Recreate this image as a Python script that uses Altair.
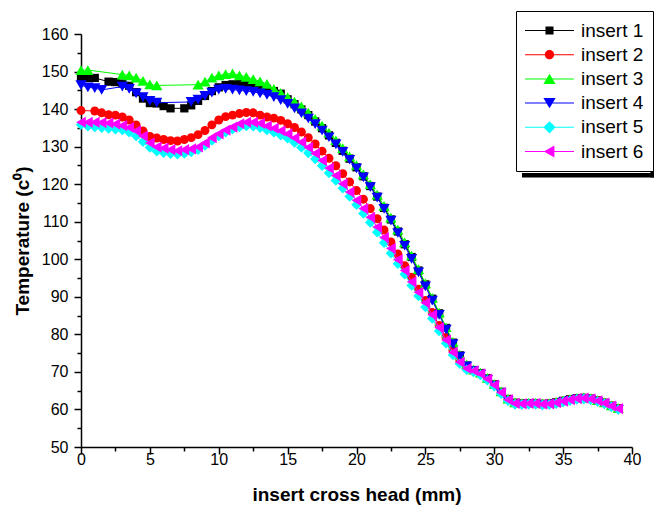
import altair as alt
import pandas as pd

# ---------------- data ----------------
X_MM = [0, 0.5, 1, 1.5, 2, 2.5, 3, 3.5, 4, 4.5,
        5, 5.5, 6, 6.5, 7, 7.5, 8, 8.5, 9, 9.5,
        10, 10.5, 11, 11.5, 12, 12.5, 13, 13.5, 14, 14.5,
        15, 15.5, 16, 16.5, 17, 17.5, 18, 18.5, 19, 19.5,
        20, 20.5, 21, 21.5, 22, 22.5, 23, 23.5, 24, 24.5,
        25, 25.5, 26, 26.5, 27, 27.5, 28, 28.5, 29, 29.5,
        30, 30.5, 31, 31.5, 32, 32.5, 33, 33.5, 34, 34.5,
        35, 35.5, 36, 36.5, 37, 37.5, 38, 38.5, 39]

INSERT_1 = [148.3, 148.3, 148.3, None, 147.3, 147.2, 146.8, 146.2, 144.5, 142.8,
            141.6, 141.5, 140.8, 140.2, None, 140.2, 141.0, 142.2, 143.5, 144.8,
            145.8, 146.4, 146.6, 146.9, 146.8, 146.4, 145.9, 145.4, 144.8, 144.1,
            142.6, 141.3, 139.9, 138.4, 136.7, 134.9, 133.0, 131.0, 128.9, 126.8,
            124.5, 122.1, 119.5, 116.7, 113.7, 110.6, 107.4, 104.0, 100.6, 97.0,
            93.3, 89.5, 85.6, 81.7, 77.8, 74.4, 71.7, 70.5, 69.7, 68.3,
            66.7, 64.7, 62.8, 61.8, 61.6, 61.7, 61.7, 61.5, 61.6, 61.9,
            62.3, 62.7, 63.0, 63.1, 62.9, 62.4, 61.8, 61.0, 60.3]

INSERT_2 = [139.6, None, 139.5, 139.0, 138.5, 138.4, 137.9, 137.1, 135.8, 134.2,
            132.7, 132.3, 131.9, 131.6, 131.5, 131.9, 132.4, 133.2, 134.3, 135.8,
            137.1, 138.0, 138.4, 138.8, 139.1, 139.0, 138.4, 137.9, 137.6, 137.0,
            136.1, 135.1, 133.9, 132.4, 130.7, 128.8, 126.9, 124.9, 122.8, 120.6,
            118.3, 116.0, 113.5, 110.8, 107.8, 104.6, 101.4, 98.3, 95.2, 92.0,
            89.0, 85.8, 82.4, 79.2, 75.8, 73.0, 71.1, 70.3, 69.5, 68.1,
            66.5, 64.5, 62.6, 61.6, 61.5, 61.6, 61.6, 61.4, 61.5, 61.8,
            62.2, 62.6, 62.9, 63.0, 62.8, 62.3, 61.7, 60.9, 60.2]

INSERT_3 = [150.4, 150.4, None, None, None, None, 149.2, 149.0, 148.4, 147.5,
            146.6, 146.3, None, None, None, None, None, 146.5, 147.3, 148.4,
            149.0, 149.3, 149.5, 149.0, 148.6, 148.0, 147.4, 146.7, 145.4, 144.3,
            143.2, 142.0, 140.7, 139.1, 137.4, 135.6, 133.7, 131.7, 129.6, 127.4,
            125.1, 122.6, 120.0, 117.2, 114.2, 111.1, 107.9, 104.5, 101.0, 97.4,
            93.6, 89.7, 85.8, 81.9, 78.0, 74.6, 72.0, 70.6, 69.8, 68.4,
            66.8, 64.8, 62.9, 61.9, 61.7, 61.8, 61.8, 61.6, 61.7, 62.0,
            62.4, 62.8, 63.1, 63.2, 63.0, 62.5, 61.9, 61.1, 60.4]

INSERT_4 = [146.4, 145.8, 145.6, 145.1, None, None, 146.0, 145.4, 144.2, 143.2,
            142.2, 141.7, None, None, None, None, 141.9, 142.5, 143.5, 144.4,
            145.2, 145.4, 145.2, 145.0, 144.8, 144.6, 144.2, 143.8, 143.2, 142.4,
            141.4, 140.2, 138.9, 137.5, 136.0, 134.3, 132.5, 130.6, 128.6, 126.5,
            124.2, 121.8, 119.2, 116.4, 113.4, 110.3, 107.0, 103.6, 100.1, 96.5,
            92.8, 89.0, 85.2, 81.3, 77.4, 74.1, 71.5, 70.2, 69.3, 67.9,
            66.3, 64.2, 62.3, 61.3, 61.2, 61.3, 61.3, 61.1, 61.2, 61.5,
            61.9, 62.3, 62.6, 62.7, 62.5, 62.0, 61.4, 60.6, 59.9]

INSERT_5 = [135.8, 135.4, 135.2, 135.0, 134.8, 134.6, 134.4, 133.8, 132.8, 131.3,
            129.8, 128.8, 128.4, 128.1, 128.0, 128.2, 128.6, 129.2, 130.3, 131.6,
            132.8, 133.8, 134.6, 135.2, 135.5, 135.4, 135.0, 134.4, 133.8, 133.0,
            132.2, 131.1, 129.8, 128.3, 126.7, 124.9, 123.0, 121.0, 118.9, 116.7,
            114.5, 112.2, 109.8, 107.2, 104.4, 101.6, 98.8, 96.0, 93.0, 90.2,
            87.3, 84.2, 80.9, 77.6, 74.5, 72.2, 70.6, 70.0, 69.2, 67.8,
            66.2, 64.2, 62.3, 61.4, 61.3, 61.4, 61.4, 61.2, 61.3, 61.6,
            62.0, 62.4, 62.7, 62.8, 62.6, 62.1, 61.5, 60.7, 60.0]

INSERT_6 = [136.5, 136.5, 136.5, 136.4, 136.3, 136.0, 135.6, 135.1, 134.2, 132.8,
            131.0, 129.9, 129.6, 129.2, 128.9, 129.2, 129.4, 129.9, 131.0, 132.4,
            133.4, 134.4, 135.2, 136.1, 136.5, 136.5, 136.2, 135.5, 134.9, 134.2,
            133.4, 132.3, 131.2, 129.8, 128.2, 126.3, 124.3, 122.3, 120.1, 117.9,
            115.7, 113.5, 111.2, 108.6, 105.8, 102.9, 99.9, 97.0, 94.0, 91.2,
            88.4, 85.2, 81.8, 78.5, 75.2, 72.6, 70.9, 70.3, 69.5, 68.1,
            66.5, 64.5, 62.6, 61.6, 61.5, 61.6, 61.6, 61.4, 61.5, 61.8,
            62.2, 62.6, 62.9, 63.0, 62.8, 62.3, 61.7, 60.9, 60.2]

SERIES_NAMES = ["insert 1", "insert 2", "insert 3", "insert 4", "insert 5", "insert 6"]
SERIES_VALUES = [INSERT_1, INSERT_2, INSERT_3, INSERT_4, INSERT_5, INSERT_6]
COLORS = ["#000000", "#ff0000", "#00ff00", "#0000ff", "#00ffff", "#ff00ff"]
SHAPES = ["square", "circle", "triangle-up", "triangle-down", "diamond", "triangle-left"]
SIZES = [68, 80, 125, 125, 110, 125]

X_MAJOR = [0, 5, 10, 15, 20, 25, 30, 35, 40]
X_MINOR = [2.5, 7.5, 12.5, 17.5, 22.5, 27.5, 32.5, 37.5]
Y_MAJOR = [50, 60, 70, 80, 90, 100, 110, 120, 130, 140, 150, 160]
Y_MINOR = [55, 65, 75, 85, 95, 105, 115, 125, 135, 145, 155]

# legend symbols: a thin line with the marker in its middle (custom SVG paths)
LINE_PATH = "M-1,-0.02L1,-0.02L1,0.02L-1,0.02Z"
LEGEND_PATHS = [
    LINE_PATH + "M-0.165,-0.165L0.165,-0.165L0.165,0.165L-0.165,0.165Z",
    LINE_PATH + "M-0.19,0A0.19,0.19,0,1,1,0.19,0A0.19,0.19,0,1,1,-0.19,0Z",
    LINE_PATH + "M0,-0.21L0.25,0.21L-0.25,0.21Z",
    LINE_PATH + "M0,0.21L-0.25,-0.21L0.25,-0.21Z",
    LINE_PATH + "M0,-0.25L0.25,0L0,0.25L-0.25,0Z",
    LINE_PATH + "M-0.23,0L0.2,-0.25L0.2,0.25Z",
]

FONT = "Liberation Sans"

x_scale = alt.Scale(domain=[0, 40], nice=False, zero=False)
y_scale = alt.Scale(domain=[50, 160], nice=False, zero=False)

common_axis = dict(domainColor="black", tickColor="black", domainWidth=1.5, tickWidth=1.5,
                   grid=False, labelFont=FONT, labelFontSize=16, labelColor="black",
                   labelOverlap=False, labelFlush=False)

x_major_axis = alt.Axis(values=X_MAJOR, tickSize=7, labelPadding=-3, orient="bottom",
                        title="insert cross head (mm)", titleFont=FONT, titleFontSize=19,
                        titleFontWeight="bold", titleColor="black", titlePadding=18,
                        **common_axis)
x_minor_axis = alt.Axis(values=X_MINOR, tickSize=4, labels=False, domain=False, orient="bottom",
                        title=None, grid=False, tickColor="black", tickWidth=1.5)
y_major_axis = alt.Axis(values=Y_MAJOR, tickSize=7, labelPadding=6, orient="left",
                        title="Temperature (c\u2070)", titleFont=FONT, titleFontSize=19,
                        titleFontWeight="bold", titleColor="black", titlePadding=9,
                        **common_axis)
y_minor_axis = alt.Axis(values=Y_MINOR, tickSize=4, labels=False, domain=False, orient="left",
                        title=None, grid=False, tickColor="black", tickWidth=1.5)

layers = []
for i, (name, vals) in enumerate(zip(SERIES_NAMES, SERIES_VALUES)):
    xs = [x for x, v in zip(X_MM, vals) if v is not None]
    ys = [v for v in vals if v is not None]
    sdf = pd.DataFrame({"x": xs, "t": ys, "series": name})
    if i == 0:
        ax_line_x, ax_line_y = x_major_axis, y_major_axis
        ax_pt_x, ax_pt_y = x_minor_axis, y_minor_axis
    else:
        ax_line_x = ax_line_y = ax_pt_x = ax_pt_y = None
    line = alt.Chart(sdf).mark_line(color=COLORS[i], strokeWidth=1).encode(
        x=alt.X("x:Q", scale=x_scale, axis=ax_line_x),
        y=alt.Y("t:Q", scale=y_scale, axis=ax_line_y),
        order=alt.Order("x:Q"),
    )
    pts = alt.Chart(sdf).mark_point(filled=True, opacity=1, strokeWidth=0, color=COLORS[i],
                                    shape=SHAPES[i], size=SIZES[i]).encode(
        x=alt.X("x:Q", scale=x_scale, axis=ax_pt_x),
        y=alt.Y("t:Q", scale=y_scale, axis=ax_pt_y),
    )
    layers += [line, pts]

# invisible layer carrying the legend
legend_df = pd.DataFrame({"series": SERIES_NAMES, "x": [X_MM[0]] * 6, "t": [INSERT_1[0]] * 6})
legend_def = alt.Legend(orient="none", legendX=435, legendY=-23, title=None,
                        strokeColor="black", fillColor="white", padding=9,
                        labelFont=FONT, labelFontSize=19, labelColor="black",
                        symbolSize=2400, symbolStrokeWidth=0, symbolOpacity=1,
                        clipHeight=21, rowPadding=3.2, labelOffset=7, cornerRadius=0)
decoy = alt.Chart(legend_df).mark_point(filled=True, opacity=0).encode(
    x=alt.X("x:Q", scale=x_scale, axis=None),
    y=alt.Y("t:Q", scale=y_scale, axis=None),
    color=alt.Color("series:N", scale=alt.Scale(domain=SERIES_NAMES, range=COLORS), legend=legend_def),
    shape=alt.Shape("series:N", scale=alt.Scale(domain=SERIES_NAMES, range=LEGEND_PATHS), legend=legend_def),
)

# legend drop shadow (decoration)
shadow_df = pd.DataFrame({"k": [0]})
shadow_bottom = alt.Chart(shadow_df).mark_rect(color="black").encode(
    x=alt.value(441), x2=alt.value(580), y=alt.value(139), y2=alt.value(143.5))
shadow_right = alt.Chart(shadow_df).mark_rect(color="black").encode(
    x=alt.value(569.5), x2=alt.value(580), y=alt.value(-17), y2=alt.value(143.5))

chart = alt.layer(shadow_bottom, shadow_right, *layers, decoy).resolve_axis(
    x="independent", y="independent"
).properties(
    width=551, height=413,
    autosize=alt.AutoSizeParams(type="none"),
    padding={"left": 73, "top": 26, "right": 22, "bottom": 59},
).configure_view(stroke=None)

chart.save("out.html", embed_options={"renderer": "svg", "actions": False})
